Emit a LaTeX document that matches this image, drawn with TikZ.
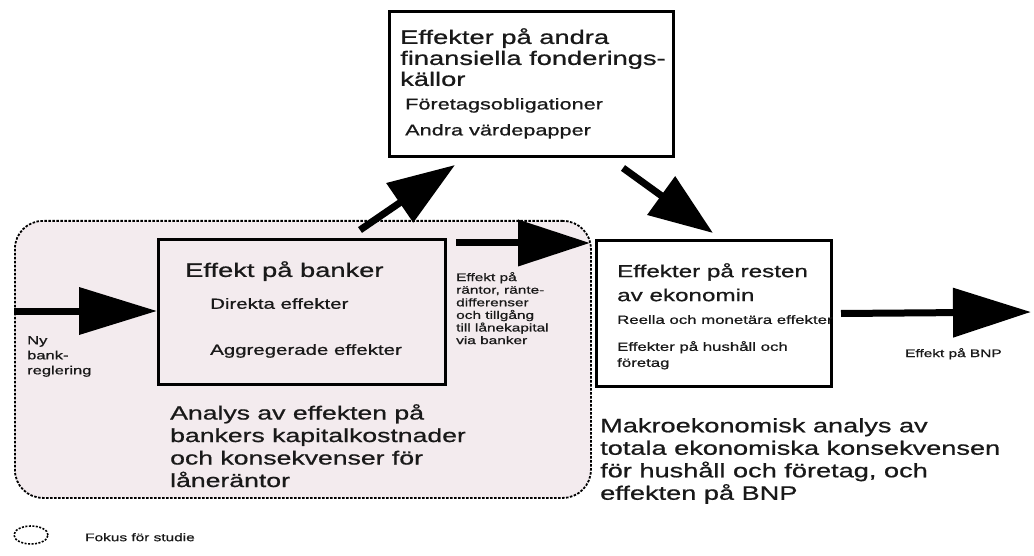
\documentclass[tikz,border=0pt]{standalone}
\usepackage{fontspec}
\setmainfont{Liberation Sans}[FakeStretch=1.4,FakeBold=0.8]
\usetikzlibrary{arrows.meta,calc,shapes.geometric}
\definecolor{focuspink}{RGB}{243,235,238}
\definecolor{ink}{RGB}{25,25,25}
\begin{document}
\begin{tikzpicture}[x=1pt,y=-1pt,
  box/.style={draw=black, line width=3pt, anchor=north west, inner sep=0pt},
  focusregion/.style={draw=black, line width=1.8pt, dash pattern=on 2.5pt off 1.5pt, fill=focuspink, rounded corners=28pt, anchor=north west, inner sep=0pt},
  txt/.style={anchor=north west, inner sep=0pt, align=left, text=ink},
  fatarrow/.style 2 args={line width=7pt, -{Triangle[length=#1pt,width=#2pt]}},
]
\useasboundingbox[fill=white] (0,0) rectangle (1034,556);
% regions and boxes
\node[focusregion, minimum width=576pt, minimum height=277pt] (focus) at (14,220) {};
\node[box, minimum width=287pt, minimum height=145pt] (bank) at (157,238) {};
\node[box, fill=white, minimum width=284pt, minimum height=145pt] (top) at (388,10) {};
\node[box, fill=white, minimum width=235pt, minimum height=146pt] (rest) at (595,239) {};
% texts in boxes
\node[txt, font=\fontsize{19.5}{21}\selectfont] (toptitle) at (400,28) {Effekter på andra\\finansiella fonderings-\\källor};
\node[txt, font=\fontsize{15.5}{18}\selectfont] (topa) at (405,98) {Företagsobligationer};
\node[txt, font=\fontsize{15.5}{18}\selectfont] (topb) at (405,124) {Andra värdepapper};
\node[txt, font=\fontsize{19.5}{22}\selectfont] (banktitle) at (185,261) {Effekt på banker};
\node[txt, font=\fontsize{14.6}{17}\selectfont] (banka) at (210,298) {Direkta effekter};
\node[txt, font=\fontsize{14.6}{17}\selectfont] (bankb) at (210,344) {Aggregerade effekter};
\node[txt, font=\fontsize{17.3}{24}\selectfont] (resttitle) at (617,263) {Effekter på resten\\av ekonomin};
\node[txt, font=\fontsize{12}{16}\selectfont] (resta) at (617,315) {Reella och monetära effekter};
\node[txt, font=\fontsize{12}{16}\selectfont] (restb) at (617,341) {Effekter på hushåll och\\företag};
% labels
\node[txt, font=\fontsize{11.8}{15}\selectfont] (ny) at (27,336) {Ny\\bank-\\reglering};
\node[txt, font=\fontsize{11}{12.6}\selectfont] (rantor) at (456,272) {Effekt på\\räntor, ränte-\\differenser\\och tillgång\\till lånekapital\\via banker};
\node[txt, font=\fontsize{11}{13}\selectfont] (bnp) at (905,348) {Effekt på BNP};
\node[txt, font=\fontsize{19}{22.5}\selectfont] (analys) at (170,404) {Analys av effekten på\\bankers kapitalkostnader\\och konsekvenser för\\låneräntor};
\node[txt, font=\fontsize{19.4}{22.5}\selectfont] (makro) at (600,418) {Makroekonomisk analys av\\totala ekonomiska konsekvensen\\för hushåll och företag, och\\effekten på BNP};
% legend
\node[draw=black, line width=1.6pt, dash pattern=on 2pt off 1.5pt, ellipse, minimum width=34pt, minimum height=18pt, inner sep=0pt] (legend) at (31,535) {};
\node[txt, font=\fontsize{11}{13}\selectfont] (legendtxt) at (85,533) {Fokus för studie};
% arrows
\coordinate (nystart) at (14,311);
\coordinate (bnpend) at (1031,312);
\draw[fatarrow={78}{46}] (nystart) -- (nystart -| bank.west);
\draw[fatarrow={67}{46}] ($(bank.north east)+(-87,-8)$) -- ($(top.south west)+(67,7)$);
\draw[fatarrow={72}{45}] ($(bank.north east)+(9,5)$) -- ($(rest.north west)+(-5,4)$);
\draw[fatarrow={64}{46}] ($(top.south east)+(-52,10)$) -- ($(rest.north west)+(118,-6)$);
\draw[fatarrow={78}{48}] ($(rest.east)+(8,0)$) -- (bnpend);
\end{tikzpicture}
\end{document}
